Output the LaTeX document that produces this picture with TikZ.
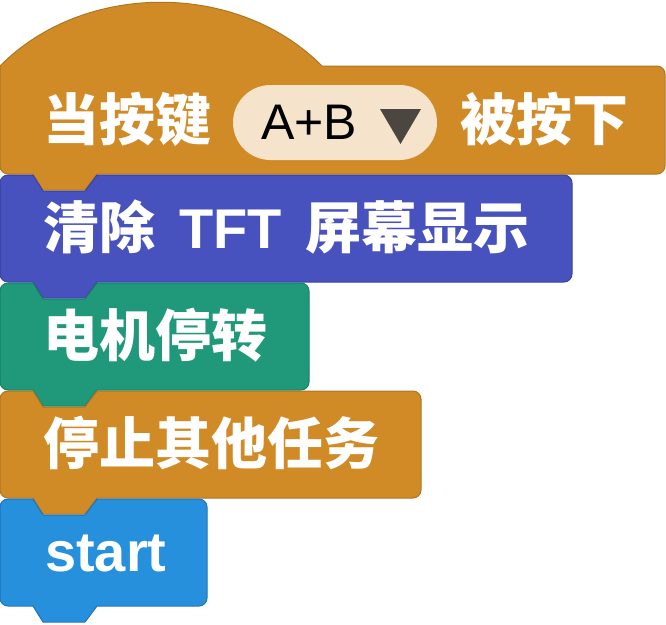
\documentclass[tikz,border=0pt]{standalone}
\usepackage{fontspec}
\setmainfont{Liberation Sans}
\newfontfamily\cjk{Noto Sans CJK SC}
\definecolor{eventorange}{RGB}{209,139,38}
\definecolor{eventline}{RGB}{174,118,34}
\definecolor{tftblue}{RGB}{72,82,190}
\definecolor{tftline}{RGB}{58,66,160}
\definecolor{motorgreen}{RGB}{32,152,122}
\definecolor{motorline}{RGB}{24,128,104}
\definecolor{startblue}{RGB}{38,144,220}
\definecolor{startline}{RGB}{30,116,184}
\definecolor{pillfill}{RGB}{245,227,203}
\definecolor{arrowgrey}{RGB}{75,70,63}

\begin{document}
\begin{tikzpicture}[x=1pt,y=-1pt,
  blockedge/.style={line width=1pt,line join=round},
  blocklabel/.style={anchor=base west,inner sep=0pt,text=white,font=\fontsize{56}{56}\selectfont\bfseries}]
\useasboundingbox (0,0) rectangle (666,624);
% hat block
\filldraw[blockedge,fill=eventorange,draw=eventline] (0,66) .. controls (84,-19) and (238,-19) .. (322,66) -- (657,66) .. controls (661.4,66) and (665,69.6) .. (665,74) -- (665,166) .. controls (665,170.4) and (661.4,174) .. (657,174) -- (97,174) -- (85,190) -- (43,190) -- (33,174) -- (8,174) .. controls (3.6,174) and (0,170.4) .. (0,166) -- cycle;
% stack blocks
\foreach \ya/\xr/\fillc/\drawc in {175/572/tftblue/tftline,283/309/motorgreen/motorline,391/421/eventorange/eventline,499/207/startblue/startline}{
  \filldraw[blockedge,fill=\fillc,draw=\drawc] (0,\ya+8) .. controls (0,\ya+3.6) and (3.6,\ya) .. (8,\ya) -- (33,\ya) -- (43,\ya+16) -- (85,\ya+16) -- (97,\ya) -- (\xr-8,\ya) .. controls (\xr-3.6,\ya) and (\xr,\ya+3.6) .. (\xr,\ya+8) -- (\xr,\ya+99) .. controls (\xr,\ya+103.4) and (\xr-3.6,\ya+107) .. (\xr-8,\ya+107) -- (97,\ya+107) -- (85,\ya+123) -- (43,\ya+123) -- (33,\ya+107) -- (8,\ya+107) .. controls (3.6,\ya+107) and (0,\ya+103.4) .. (0,\ya+99) -- cycle;
}
% texts
\node[blocklabel] (hattext) at (43,140) {\cjk 当按键};
\node[fill=pillfill,rounded corners=37.5pt,minimum width=204pt,minimum height=75pt,inner sep=0pt] (keypill) at (335,122.5) {};
\node[anchor=base west,inner sep=0pt,font=\fontsize{50}{50}\selectfont] (keylabel) at (261,139) {A+B};
\fill[arrowgrey] (380,109) -- (421,109) -- (400.5,144) -- cycle;
\node[blocklabel] (pressed) at (460,140) {\cjk 被按下};
\node[blocklabel] (cleartext) at (43,248) {{\cjk 清除}\hspace{24pt}TFT\hspace{24pt}{\cjk 屏幕显示}};
\node[blocklabel] (motortext) at (43,356) {\cjk 电机停转};
\node[blocklabel] (stoptext) at (43,464) {\cjk 停止其他任务};
\node[blocklabel] (starttext) at (45,571) {start};
\end{tikzpicture}
\end{document}
